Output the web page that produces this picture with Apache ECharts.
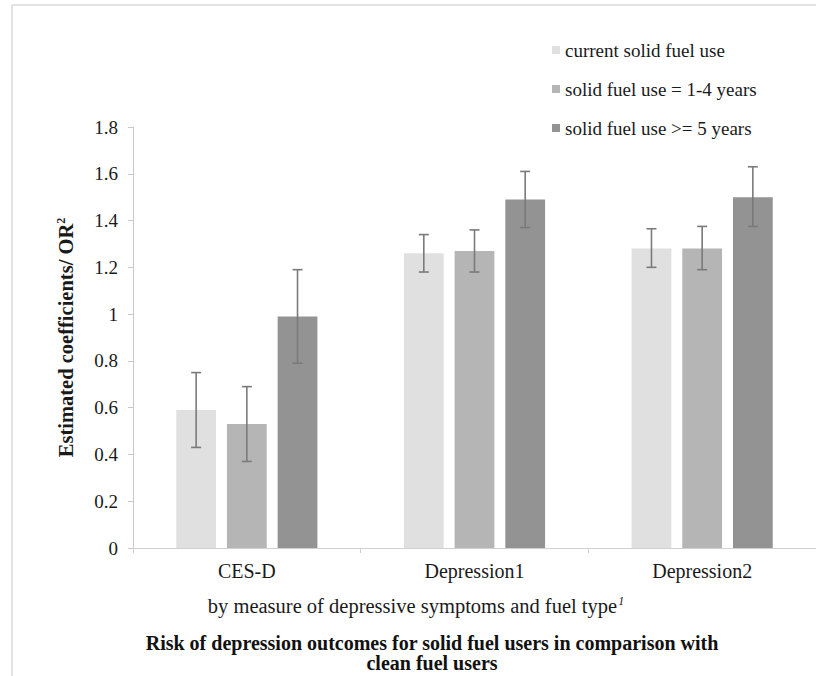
<!DOCTYPE html>
<html>
<head>
<meta charset="utf-8">
<script src="https://cdn.jsdelivr.net/npm/echarts@6/dist/echarts.min.js"></script>
<style>
html,body{margin:0;padding:0;background:#fff;}
#main{width:816px;height:676px;}
</style>
</head>
<body>
<div id="main"></div>
<script>
var categories = ['CES-D', 'Depression1', 'Depression2'];
var seriesNames = ['current solid fuel use', 'solid fuel use = 1-4 years', 'solid fuel use >= 5 years'];
var currentUse = [0.59, 1.26, 1.28];
var use1to4 = [0.53, 1.27, 1.28];
var use5plus = [0.99, 1.49, 1.50];
var currentLow = [0.43, 1.18, 1.20];
var currentHigh = [0.75, 1.34, 1.365];
var use1to4Low = [0.37, 1.18, 1.19];
var use1to4High = [0.69, 1.36, 1.375];
var use5plusLow = [0.79, 1.37, 1.375];
var use5plusHigh = [1.19, 1.61, 1.63];
var colors = ['#e0e0e0', '#b5b5b5', '#939393'];

var values = [currentUse, use1to4, use5plus];
var lows = [currentLow, use1to4Low, use5plusLow];
var highs = [currentHigh, use1to4High, use5plusHigh];

var font = "'Liberation Serif', 'Times New Roman', serif";
var txt = '#1a1a1a';
var catGap = 0.38, barGapFrac = 0.275;

var chart = echarts.init(document.getElementById('main'), null, {renderer: 'svg'});

var series = [];
values.forEach(function (vals, k) {
  series.push({
    name: seriesNames[k],
    type: 'bar',
    data: vals,
    barCategoryGap: (catGap * 100) + '%',
    barGap: (barGapFrac * 100) + '%',
    itemStyle: {color: colors[k]},
    silent: true
  });
});
values.forEach(function (vals, k) {
  var data = categories.map(function (c, i) { return [i, lows[k][i], highs[k][i]]; });
  series.push({
    type: 'custom',
    name: 'err' + k,
    data: data,
    encode: {x: 0, y: [1, 2]},
    z: 10,
    silent: true,
    renderItem: function (params, api) {
      var band = api.size([1, 0])[0];
      var bw = band * (1 - catGap) / (3 + 2 * barGapFrac);
      var offset = (k - 1) * bw * (1 + barGapFrac);
      var lo = api.coord([api.value(0), api.value(1)]);
      var hi = api.coord([api.value(0), api.value(2)]);
      var x = lo[0] + offset;
      var cap = 5;
      var style = {stroke: '#7a7a7a', lineWidth: 1.6};
      return {
        type: 'group',
        children: [
          {type: 'line', shape: {x1: x, y1: lo[1], x2: x, y2: hi[1]}, style: style},
          {type: 'line', shape: {x1: x - cap, y1: lo[1], x2: x + cap, y2: lo[1]}, style: style},
          {type: 'line', shape: {x1: x - cap, y1: hi[1], x2: x + cap, y2: hi[1]}, style: style}
        ]
      };
    }
  });
});

chart.setOption({
  animation: false,
  backgroundColor: '#ffffff',
  grid: {left: 133, top: 127, width: 691, height: 421, containLabel: false},
  legend: {
    orient: 'vertical',
    left: 547,
    top: 35,
    itemWidth: 8,
    itemHeight: 8,
    itemGap: 19,
    icon: 'rect',
    data: seriesNames,
    selectedMode: false,
    textStyle: {fontFamily: font, fontSize: 19, color: txt, lineHeight: 20}
  },
  xAxis: {
    type: 'category',
    data: categories,
    axisLine: {lineStyle: {color: '#d0d0d0', width: 1}},
    axisTick: {show: true, alignWithLabel: false, length: 5, lineStyle: {color: '#d0d0d0'}},
    axisLabel: {fontFamily: font, fontSize: 20, color: txt, margin: 13}
  },
  yAxis: {
    type: 'value',
    min: 0,
    max: 1.8,
    interval: 0.2,
    splitLine: {show: false},
    axisLine: {show: true, lineStyle: {color: '#c8c8c8', width: 1}},
    axisTick: {show: true, length: 5, lineStyle: {color: '#c8c8c8'}},
    axisLabel: {fontFamily: font, fontSize: 19, color: txt, margin: 15,
      formatter: function (v) { return String(Math.round(v * 10) / 10); }},
    name: '{m|Estimated coefficients/ OR}{s|2}',
    nameLocation: 'middle',
    nameGap: 57,
    nameRotate: 90,
    nameTextStyle: {
      rich: {
        m: {fontFamily: font, fontSize: 20.5, fontWeight: 'bold', color: txt},
        s: {fontFamily: font, fontSize: 12, fontWeight: 'bold', color: txt, padding: [0, 0, 9, 0]}
      }
    }
  },
  title: [
    {
      text: '{m|by measure of depressive symptoms and fuel type}{s|1}',
      left: 416,
      top: 595,
      padding: 0,
      textAlign: 'center',
      textStyle: {
        fontWeight: 'normal',
        rich: {
          m: {fontFamily: font, fontSize: 20.5, fontWeight: 'normal', color: txt},
          s: {fontFamily: font, fontSize: 12, fontStyle: 'italic', fontWeight: 'normal', color: txt, padding: [0, 0, 9, 1]}
        }
      }
    },
    {
      text: 'Risk of depression outcomes for solid fuel users in comparison with\nclean fuel users',
      left: 432,
      top: 633,
      padding: 0,
      textAlign: 'center',
      textStyle: {fontFamily: font, fontSize: 20, fontWeight: 'bold', color: '#111', lineHeight: 20}
    }
  ],
  graphic: [
    {type: 'line', shape: {x1: 12, y1: 5, x2: 816, y2: 5}, style: {stroke: '#e2e2e2', lineWidth: 2}, silent: true},
    {type: 'line', shape: {x1: 12, y1: 5, x2: 12, y2: 676}, style: {stroke: '#e2e2e2', lineWidth: 2}, silent: true}
  ],
  series: series
});
</script>
</body>
</html>
